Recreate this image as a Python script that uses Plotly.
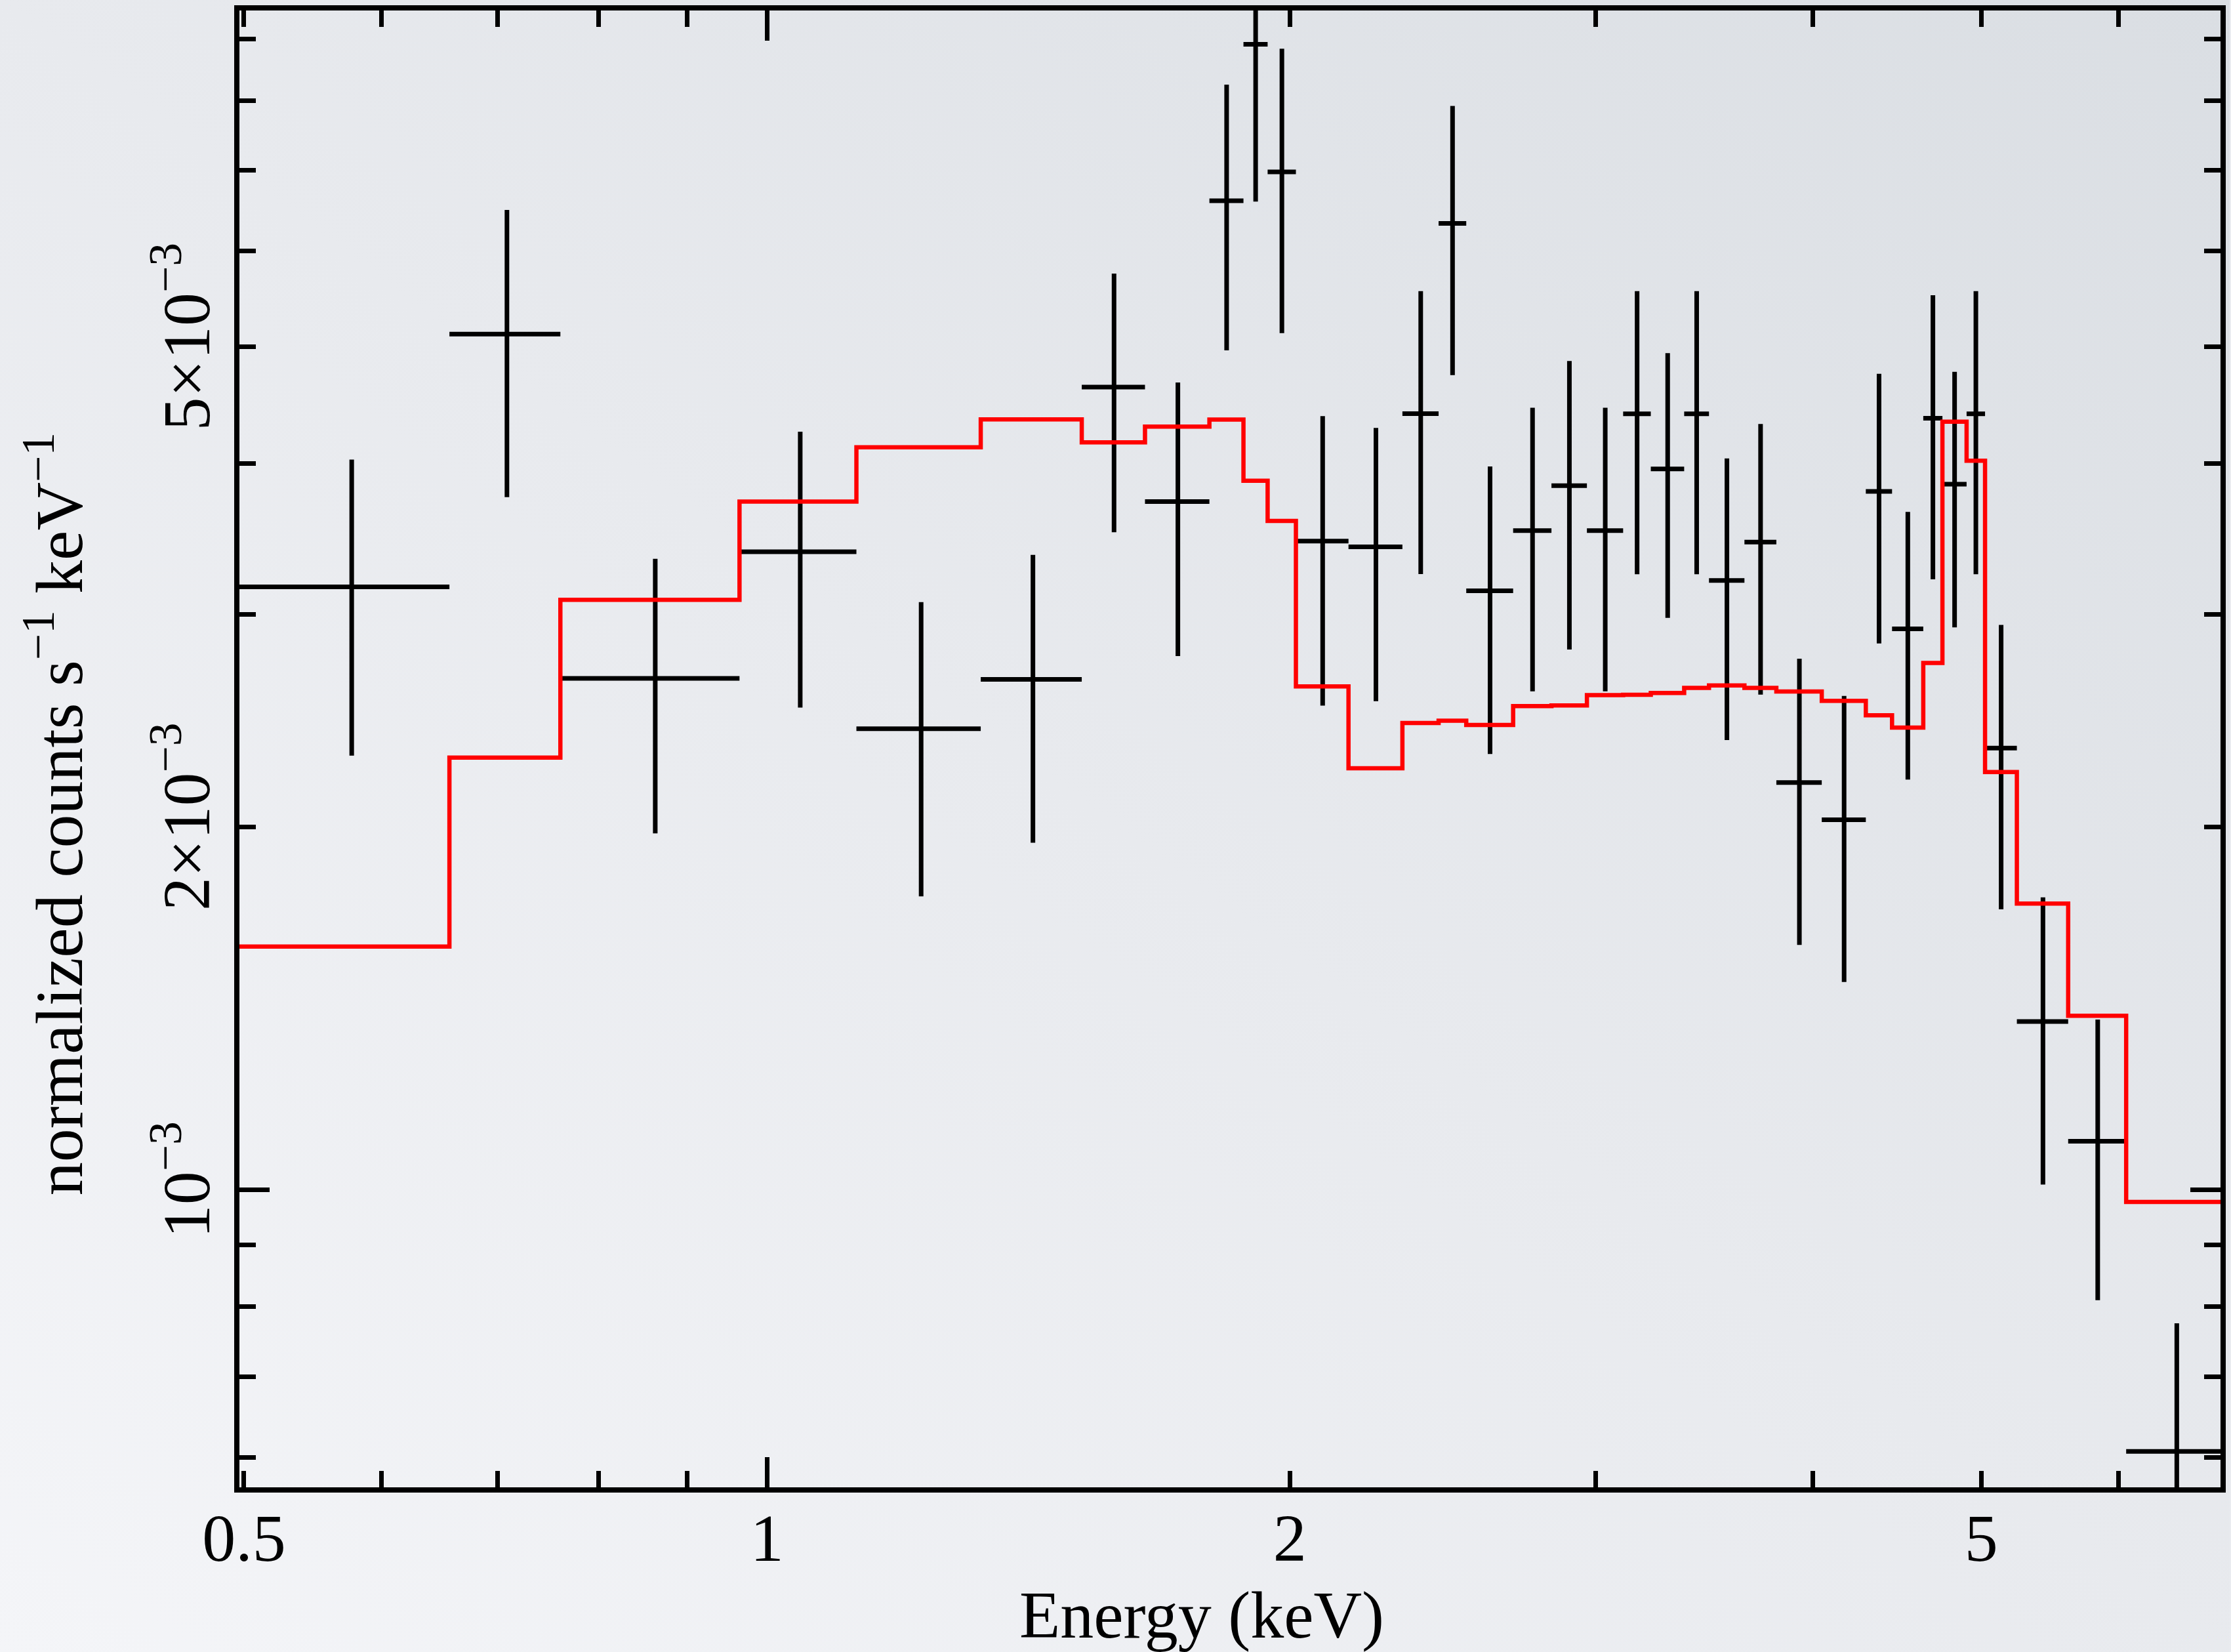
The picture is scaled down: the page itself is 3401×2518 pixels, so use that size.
import base64
import math
import plotly.graph_objects as go

# ---------------- data ----------------
# energy bin edges (keV) shared by data points and model histogram
bin_edges_keV = [0.497, 0.6565, 0.7605, 0.9643, 1.1259, 1.3276, 1.5178, 1.6505,
                 1.7976, 1.8806, 1.9418, 2.016, 2.1615, 2.3216, 2.4357, 2.5266,
                 2.6886, 2.8287, 2.9648, 3.1106, 3.2268, 3.3727, 3.4855, 3.6532,
                 3.811, 4.0474, 4.2908, 4.4426, 4.6303, 4.7494, 4.9039, 5.0254,
                 5.2419, 5.6107, 6.059, 6.90]

# normalized counts s^-1 keV^-1, in units of 1e-3
counts_e3 = [3.161, 5.122, 2.655, 3.381, 2.411, 2.650, 4.629, 3.720, 6.606, 8.906,
             6.981, 3.450, 3.412, 4.400, 6.327, 3.138, 3.520, 3.835, 3.520, 4.399,
             3.960, 4.399, 3.200, 3.444, 2.176, 2.027, 3.793, 2.918, 4.362, 3.846,
             4.399, 2.324, 1.379, 1.097, 0.607]

count_err_e3 = [0.87, 1.37, 0.68, 0.87, 0.66, 0.71, 1.12, 0.95, 1.64, 2.31,
                1.85, 0.93, 0.87, 1.16, 1.59, 0.84, 0.93, 1.03, 0.93, 1.16,
                0.98, 1.16, 0.84, 0.87, 0.58, 0.54, 0.955, 0.73, 1.155, 0.92,
                1.16, 0.616, 0.369, 0.287, 0.168]

model_e3 = [1.591, 2.282, 3.084, 3.720, 4.127, 4.353, 4.166, 4.293, 4.351, 3.871,
            3.585, 2.614, 2.236, 2.438, 2.449, 2.429, 2.518, 2.521, 2.571, 2.573,
            2.582, 2.607, 2.619, 2.607, 2.589, 2.543, 2.474, 2.417, 2.734, 4.333,
            4.022, 2.220, 1.727, 1.394, 0.977]

x_tick_vals = [0.5, 1, 2, 5]
x_tick_text = ["0.5", "1", "2", "5"]
x_minor_vals = [0.6, 0.7, 0.8, 0.9, 3, 4, 6]
y_tick_vals = [1e-3, 2e-3, 5e-3]
y_tick_text = ["10<sup>\u22123</sup>", "2\u00d710<sup>\u22123</sup>", "5\u00d710<sup>\u22123</sup>"]
y_minor_vals = [6e-4, 7e-4, 8e-4, 9e-4, 3e-3, 4e-3, 6e-3, 7e-3, 8e-3, 9e-3]

x_range = [0.497, 6.866]
y_range = [5.667e-4, 9.50e-3]

# ---------------- derived ----------------
SCALE = 1e-3
lo = bin_edges_keV[:-1]
hi = bin_edges_keV[1:]
centers = [(a + b) / 2 for a, b in zip(lo, hi)]
halfw = [(b - a) / 2 for a, b in zip(lo, hi)]
counts = [v * SCALE for v in counts_e3]
errs = [v * SCALE for v in count_err_e3]
model_y = [v * SCALE for v in model_e3] + [model_e3[-1] * SCALE]

W, H = 3401, 2518
ML, MR, MT, MB = 365, 8, 16, 251
PW, PH = W - ML - MR, H - MT - MB

FONT = "Liberation Serif, Times New Roman, serif"
BLACK = "#000000"
BG = "#eaecf0"

fig = go.Figure()

fig.add_trace(go.Scatter(
    x=centers, y=counts, mode="markers",
    marker=dict(size=0, color=BLACK),
    error_x=dict(type="data", array=halfw, width=0, thickness=7, color=BLACK),
    error_y=dict(type="data", array=errs, width=0, thickness=7, color=BLACK),
    showlegend=False, hoverinfo="skip",
))

fig.add_trace(go.Scatter(
    x=bin_edges_keV, y=model_y, mode="lines",
    line=dict(color="#ff0000", width=6.5, shape="hv"),
    xaxis="x2", yaxis="y2", showlegend=False, hoverinfo="skip",
))

lx = [math.log10(v) for v in x_range]
ly = [math.log10(v) for v in y_range]

common_tick = dict(ticks="inside", tickwidth=7, tickcolor=BLACK,
                   showgrid=False, zeroline=False,
                   showline=True, linecolor=BLACK, linewidth=8, mirror="ticks")

fig.update_layout(
    width=W, height=H,
    margin=dict(l=ML, r=MR, t=MT, b=MB, pad=0),
    paper_bgcolor=BG,
    plot_bgcolor="rgba(0,0,0,0)",
    font=dict(family=FONT, color=BLACK, size=100),
    showlegend=False,
    xaxis=dict(type="log", range=lx, tickvals=x_tick_vals, ticktext=x_tick_text,
               ticklen=25, tickfont=dict(family=FONT, size=102, color=BLACK),
               ticklabelstandoff=-18,
               minor=dict(tickvals=x_minor_vals, ticks="inside", ticklen=25,
                          tickwidth=7, tickcolor=BLACK, showgrid=False),
               **common_tick),
    yaxis=dict(type="log", range=ly, tickvals=y_tick_vals, ticktext=y_tick_text,
               ticklen=25, tickangle=-90,
               tickfont=dict(family=FONT, size=102, color=BLACK),
               ticklabelstandoff=-3,
               minor=dict(tickvals=y_minor_vals, ticks="inside", ticklen=25,
                          tickwidth=7, tickcolor=BLACK, showgrid=False),
               **common_tick),
    xaxis2=dict(type="log", range=lx, overlaying="x", anchor="y", side="bottom",
                tickvals=[1], ticklen=46, showticklabels=False, **common_tick),
    yaxis2=dict(type="log", range=ly, overlaying="y", anchor="x", side="left",
                tickvals=[1e-3], ticklen=46, showticklabels=False, **common_tick),
)

# axis titles
fig.add_annotation(text="Energy (keV)", xref="paper", yref="paper",
                   x=0.4858, y=-0.0863, xanchor="center", yanchor="middle",
                   showarrow=False, font=dict(family=FONT, size=102, color=BLACK))
fig.add_annotation(text="normalized counts s<sup>\u22121</sup> keV<sup>\u22121</sup>",
                   xref="paper", yref="paper", x=-0.0935, y=0.456,
                   xanchor="center", yanchor="middle", textangle=-90,
                   showarrow=False, font=dict(family=FONT, size=102, color=BLACK))

# soft diagonal background gradient
svg = (f'<svg xmlns="http://www.w3.org/2000/svg" width="{W}" height="{H}" '
       f'preserveAspectRatio="none"><defs><linearGradient id="g" x1="1" y1="0" x2="0" y2="1">'
       '<stop offset="0" stop-color="#dadee3"/><stop offset="0.5" stop-color="#e8eaee"/>'
       '<stop offset="1" stop-color="#f4f5f8"/></linearGradient></defs>'
       f'<rect x="0" y="0" width="{W}" height="{H}" fill="url(#g)"/></svg>')
src = "data:image/svg+xml;base64," + base64.b64encode(svg.encode()).decode()
fig.add_layout_image(dict(source=src, xref="paper", yref="paper",
                          x=-ML / PW - 0.002, y=1 + MT / PH + 0.002,
                          sizex=W / PW + 0.004, sizey=H / PH + 0.004,
                          xanchor="left", yanchor="top", sizing="stretch",
                          layer="below"))

fig.write_html("out.html",
               config={"displayModeBar": False, "staticPlot": True},
               post_script="document.body.style.margin='0';"
                           f"document.body.style.background='{BG}';")
